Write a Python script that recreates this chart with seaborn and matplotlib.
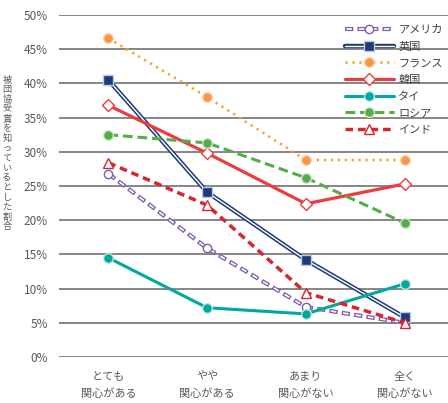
import matplotlib
matplotlib.use("Agg")
import matplotlib.pyplot as plt
from matplotlib.legend_handler import HandlerTuple
import seaborn as sns
import pandas as pd

# カテゴリと各国の値(%)
categories = ["とても\n関心がある", "やや\n関心がある", "あまり\n関心がない", "全く\n関心がない"]
countries = ["アメリカ", "英国", "フランス", "韓国", "タイ", "ロシア", "インド"]
usa = [26.8, 15.9, 7.3, 5.0]
uk = [40.5, 24.1, 14.2, 5.8]
france = [46.6, 38.0, 28.8, 28.8]
korea = [36.8, 29.8, 22.4, 25.3]
thai = [14.5, 7.2, 6.3, 10.7]
russia = [32.5, 31.3, 26.2, 19.6]
india = [28.4, 22.2, 9.4, 5.0]
yticks = [0, 5, 10, 15, 20, 25, 30, 35, 40, 45, 50]
ylabel = "被団協受賞を知っているとした割合"

values = [usa, uk, france, korea, thai, russia, india]

sns.set_style("white")
plt.rcParams["font.family"] = ["Noto Sans CJK JP", "DejaVu Sans"]
plt.rcParams["lines.scale_dashes"] = False

TEXT = "#595959"

# 線: (色, 線種, 太さ, 中抜き線の線種/太さ)  マーカー: (形, 大きさ, 塗り, 縁)
styles = {
    "アメリカ": dict(color="#7f5cb0", ls=(0, (6, 3)), lw=3.0, inner=((8, (4, 5)), 1.2),
                  marker="o", ms=6, mfc="white", mec="#7f5cb0"),
    "英国": dict(color="#1f3a78", ls="-", lw=3.2, inner=("-", 1.0),
               marker="s", ms=6.5, mfc="#1f3a78", mec="#b7cbe6"),
    "フランス": dict(color="#f7a52a", ls=(0, (1.6, 3.4)), lw=1.9, inner=None,
                 marker="o", ms=7, mfc="#f79646", mec="#fbd3b0"),
    "韓国": dict(color="#ee3b3f", ls="-", lw=2.3, inner=None,
               marker="D", ms=6, mfc="white", mec="#ee3b3f"),
    "タイ": dict(color="#00a99d", ls="-", lw=2.2, inner=None,
               marker="o", ms=7, mfc="#00a99d", mec="#bfe7e3"),
    "ロシア": dict(color="#55ac48", ls=(0, (7, 3.5)), lw=2.2, inner=None,
                marker="o", ms=7, mfc="#55ac48", mec="#cde6c8"),
    "インド": dict(color="#d7262e", ls=(0, (5.5, 3.5)), lw=2.5, inner=None,
                marker="^", ms=7.5, mfc="white", mec="#d7262e"),
}

fig = plt.figure(figsize=(4.48, 4.03), dpi=100)
ax = fig.add_axes([59 / 448, 46 / 403, 395 / 448, 342 / 403])

handles = []
for i, (name, vals) in enumerate(zip(countries, values)):
    st = styles[name]
    df = pd.DataFrame({"x": range(len(categories)), "y": vals})
    parts = []
    sns.lineplot(data=df, x="x", y="y", ax=ax, color=st["color"], lw=st["lw"],
                 legend=False, zorder=3 + i * 0.1)
    line = ax.get_lines()[-1]
    line.set_linestyle(st["ls"])
    parts.append(line)
    if st["inner"] is not None:
        sns.lineplot(data=df, x="x", y="y", ax=ax, color="white", lw=st["inner"][1],
                     legend=False, zorder=3.01 + i * 0.1)
        inner = ax.get_lines()[-1]
        inner.set_linestyle(st["inner"][0])
        parts.append(inner)
    sns.lineplot(data=df, x="x", y="y", ax=ax, lw=0, marker=st["marker"], ms=st["ms"],
                 mfc=st["mfc"], mec=st["mec"], mew=1.0, legend=False, zorder=3.05 + i * 0.1)
    mk = ax.get_lines()[-1]
    mk.set_linestyle("none")
    parts.append(mk)
    handles.append(tuple(parts))

ax.set_xlim(-0.5, 3.5)
ax.set_ylim(0, 50)
ax.set_yticks(yticks)
ax.set_yticklabels([f"{v}%" for v in yticks])
ax.set_xticks(range(len(categories)))
ax.set_xticklabels(categories, linespacing=1.8, fontsize=8)
ax.tick_params(axis="both", colors=TEXT, length=0)
ax.tick_params(axis="y", labelsize=8.5, pad=8)
ax.tick_params(axis="x", pad=10.5)
ax.set_xlabel("")
ax.set_ylabel("")
for sp in ax.spines.values():
    sp.set_visible(False)
ax.grid(axis="y", color="#666666", lw=1.1)
ax.set_axisbelow(True)

# 縦書きの軸ラベル(1文字ずつ配置)
for k, ch in enumerate(ylabel):
    fig.text(7 / 448, 1 - (80 + k * 9.8) / 403, ch, ha="center", va="center",
             fontsize=6.6, color=TEXT)

leg = fig.legend(handles, countries, loc="upper left", bbox_to_anchor=(345 / 448, 1 - 25 / 403),
                 frameon=False, fontsize=8, handlelength=4.4, handletextpad=0.4,
                 labelspacing=0.6, borderpad=0, borderaxespad=0,
                 handler_map={tuple: HandlerTuple(ndivide=1)})
for t in leg.get_texts():
    t.set_color("#404040")

fig.savefig("out.png", dpi=100)
